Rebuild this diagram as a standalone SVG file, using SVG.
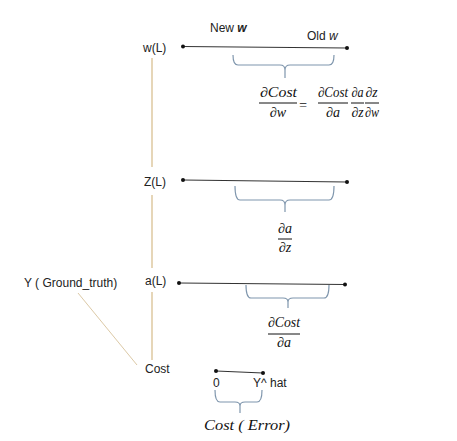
<svg xmlns="http://www.w3.org/2000/svg" width="457" height="441" viewBox="0 0 457 441">
<style>
.lbl{font-family:"Liberation Sans",Arial,sans-serif;font-size:12px;fill:#222}
.m{font-family:"Liberation Serif","Times New Roman",serif;font-style:italic;font-size:14px;fill:#111}
.beige{stroke:#e6d6b8;stroke-width:2;fill:none}
.axis{stroke:#333;stroke-width:1.2;fill:none}
.brace{stroke:#7f96ad;stroke-width:1.2;fill:none}
.fr{stroke:#111;stroke-width:1}
</style>
<rect width="457" height="441" fill="#fff"/>
<g id="connectors">
<line class="beige" x1="152" y1="58" x2="152" y2="167"/>
<line class="beige" x1="152" y1="195" x2="152" y2="268"/>
<line class="beige" x1="152" y1="292" x2="152" y2="360"/>
<line x1="78" y1="293" x2="137" y2="365" stroke="#dcc9a6" stroke-width="1"/>
</g>
<g id="w">
<text class="lbl" x="143" y="52">w(L)</text>
<line class="axis" x1="183" y1="46.5" x2="347" y2="48"/>
<circle cx="183" cy="46.5" r="2" fill="#111"/>
<circle cx="347" cy="48" r="2" fill="#111"/>
<text class="lbl" x="210" y="32" font-size="13">New <tspan font-weight="bold" font-style="italic">w</tspan></text>
<text class="lbl" x="307" y="40" font-size="13">Old <tspan font-style="italic">w</tspan></text>
<path class="brace" d="M233,55 Q233,65 238,65 L280,65 Q285,65 285,70 Q285,65 290,65 L329,65 Q334,65 334,55 M285,70 L285,78"/>
<text class="m" x="260" y="97" textLength="37" lengthAdjust="spacingAndGlyphs">∂Cost</text>
<line class="fr" x1="259" y1="103" x2="297" y2="103"/>
<text class="m" x="278" y="117" text-anchor="middle">∂w</text>
<text class="m" x="303" y="110" text-anchor="middle" font-style="normal" font-size="17">=</text>
<text class="m" x="318" y="97" textLength="30" lengthAdjust="spacingAndGlyphs">∂Cost</text>
<line class="fr" x1="318" y1="103" x2="348" y2="103"/>
<text class="m" x="333" y="117" text-anchor="middle">∂a</text>
<text class="m" x="351.5" y="97" textLength="12" lengthAdjust="spacingAndGlyphs">∂a</text>
<line class="fr" x1="351" y1="103" x2="364" y2="103"/>
<text class="m" x="351.5" y="117" textLength="12" lengthAdjust="spacingAndGlyphs">∂z</text>
<text class="m" x="365.5" y="97" textLength="12" lengthAdjust="spacingAndGlyphs">∂z</text>
<line class="fr" x1="365" y1="103" x2="379" y2="103"/>
<text class="m" x="365" y="117" textLength="14" lengthAdjust="spacingAndGlyphs">∂w</text>
</g>
<g id="z">
<text class="lbl" x="144" y="186">Z(L)</text>
<line class="axis" x1="183" y1="180" x2="347" y2="182"/>
<circle cx="183" cy="180" r="2" fill="#111"/>
<circle cx="347" cy="182" r="2" fill="#111"/>
<path class="brace" d="M235,186 Q235,200 240,200 L280,200 Q285,200 285,205 Q285,200 290,200 L329,200 Q334,200 334,186 M285,205 L285,212"/>
<text class="m" x="285" y="233" text-anchor="middle">∂a</text>
<line class="fr" x1="278" y1="239" x2="292" y2="239"/>
<text class="m" x="285" y="252" text-anchor="middle">∂z</text>
</g>
<g id="a">
<text class="lbl" x="145" y="285">a(L)</text>
<line class="axis" x1="179" y1="283" x2="345" y2="284.5"/>
<circle cx="179" cy="283" r="2" fill="#111"/>
<circle cx="345" cy="284.5" r="2" fill="#111"/>
<path class="brace" d="M246,285 Q246,298 251,298 L283,298 Q288,298 288,302 Q288,298 293,298 L324,298 Q329,298 329,285 M288,302 L288,308"/>
<text class="m" x="268" y="327" textLength="32" lengthAdjust="spacingAndGlyphs">∂Cost</text>
<line class="fr" x1="268" y1="334" x2="300" y2="334"/>
<text class="m" x="284" y="347" text-anchor="middle">∂a</text>
</g>
<g id="ground-truth">
<text class="lbl" x="24" y="287">Y ( Ground_truth)</text>
</g>
<g id="cost">
<text class="lbl" x="145" y="373">Cost</text>
<line class="axis" x1="216" y1="371" x2="263" y2="373"/>
<circle cx="216" cy="371" r="2" fill="#111"/>
<circle cx="263" cy="373" r="2" fill="#111"/>
<text class="lbl" x="213" y="387">0</text>
<text class="lbl" x="253" y="387">Y^ hat</text>
<path class="brace" d="M215,390 Q215,402 220,402 L235,402 Q240,402 240,406 Q240,402 245,402 L257,402 Q262,402 262,390 M240,406 L240,413"/>
<text class="m" x="204" y="430" font-size="16" textLength="86" lengthAdjust="spacingAndGlyphs">Cost ( Error)</text>
</g>
</svg>
